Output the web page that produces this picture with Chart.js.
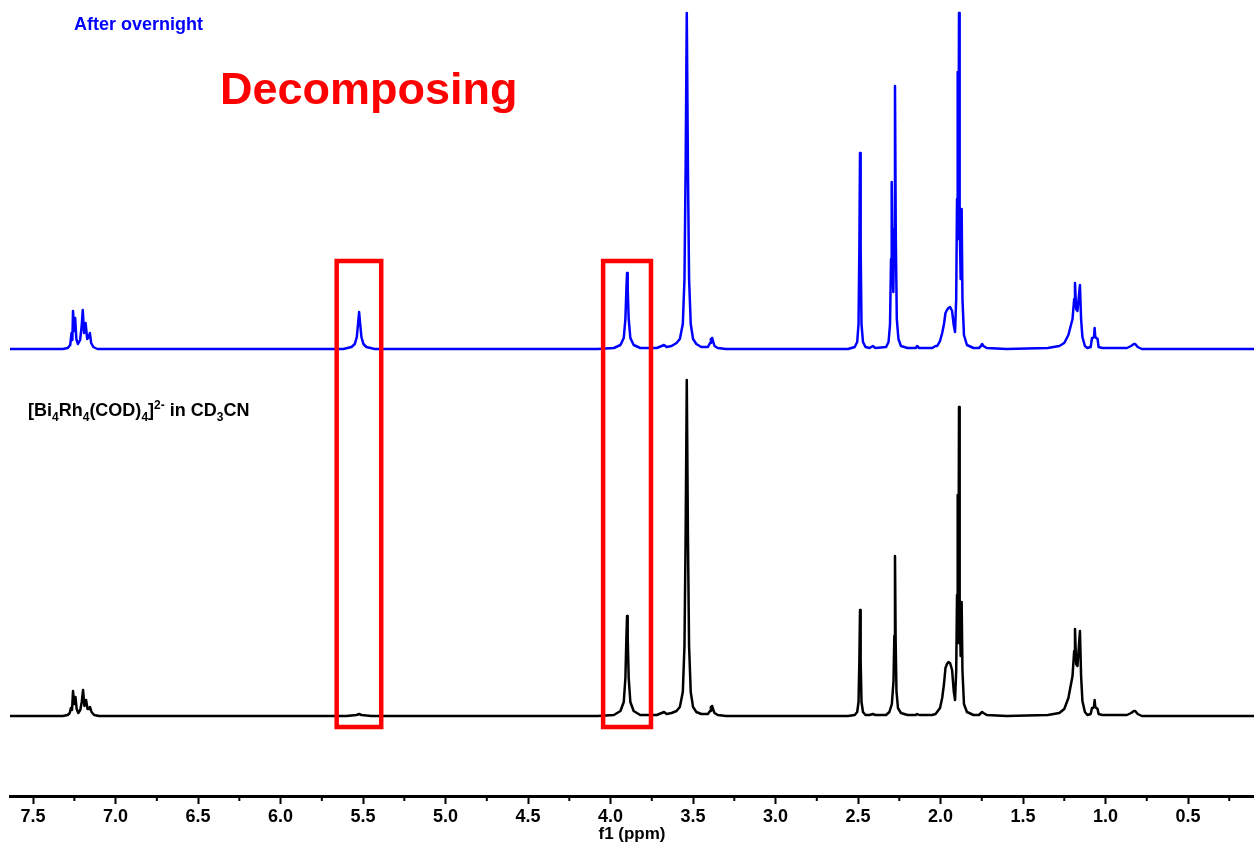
<!DOCTYPE html>
<html>
<head>
<meta charset="utf-8">
<title>1H NMR - Bi4Rh4(COD)4 decomposition</title>
<script src="https://cdn.jsdelivr.net/npm/chart.js@4.4.1/dist/chart.umd.min.js"></script>
<style>
  body { margin: 0; background: #fff; }
  #wrap { position: relative; width: 1254px; height: 845px; }
  .note {
    position: absolute;
    font-family: 'Liberation Sans', Arial, sans-serif;
    font-weight: bold;
    line-height: 1;
    white-space: nowrap;
  }
  #after { left: 74px; top: 15px; font-size: 18px; color: #0000ff; }
  #decomp { left: 220px; top: 66px; font-size: 45px; color: #ff0000; }
  #sample { left: 28px; top: 401px; font-size: 18px; color: #000; }
  #sample sub, #sample sup { font-size: 12px; line-height: 0; }
</style>
</head>
<body>
<div id="wrap">
  <canvas id="nmr"></canvas>
  <div class="note" id="after">After overnight</div>
  <div class="note" id="decomp">Decomposing</div>
  <div class="note" id="sample">[Bi<sub>4</sub>Rh<sub>4</sub>(COD)<sub>4</sub>]<sup>2-</sup> in CD<sub>3</sub>CN</div>
</div>
<script>
// x axis (ppm), shown from high to low shift
const shiftRange = [0.1, 7.64];
const majorTicks = [7.5, 7.0, 6.5, 6.0, 5.5, 5.0, 4.5, 4.0, 3.5, 3.0, 2.5, 2.0, 1.5, 1.0, 0.5];
const minorTicks = [7.25, 6.75, 6.25, 5.75, 5.25, 4.75, 4.25, 3.75, 3.25, 2.75, 2.25, 1.75, 1.25, 0.75, 0.25];

// spectrum after standing overnight: [ppm, intensity]
const afterOvernight = [
  [7.64,0],[7.32,0],[7.29,1],[7.275,4],[7.267,16],[7.262,9],[7.258,38],[7.251,18],[7.245,31],[7.238,10],
  [7.228,5],[7.215,9],[7.206,22],[7.199,39],[7.191,16],[7.182,26],[7.172,10],[7.163,12],[7.156,16],[7.148,6],
  [7.135,2],[7.11,0],
  [5.62,0],[5.57,2],[5.55,5],[5.538,12],[5.53,26],[5.524,37],[5.518,26],[5.51,12],[5.498,5],[5.48,2],[5.43,0],
  [4.08,0],[3.98,1],[3.94,4],[3.92,11],[3.91,30],[3.904,60],[3.9,76],[3.896,60],[3.89,30],[3.88,11],[3.86,4],
  [3.82,1],[3.72,1],[3.69,3],[3.676,4],[3.66,2],[3.63,3],[3.6,6],[3.58,10],[3.562,25],[3.552,70],[3.545,180],
  [3.538,336],[3.531,180],[3.524,70],[3.514,25],[3.5,10],[3.48,5],[3.45,2],[3.41,2],[3.397,6],[3.392,10],
  [3.388,7],[3.384,11],[3.379,8],[3.37,3],[3.35,1],[3.3,0],
  [2.56,0],[2.52,2],[2.505,7],[2.497,25],[2.492,100],[2.488,196],[2.484,100],[2.479,25],[2.47,7],[2.455,2],
  [2.43,1],[2.41,3],[2.395,1],[2.33,2],[2.315,7],[2.306,25],[2.3,90],[2.296,167],[2.29,80],[2.286,57],
  [2.281,120],[2.276,263],[2.271,110],[2.265,30],[2.255,10],[2.24,3],[2.2,1],[2.15,1],[2.142,3],[2.13,1],
  [2.05,1],[2.03,3],[2.02,3],[2.003,8],[1.99,16],[1.979,25],[1.97,36],[1.961,39],[1.952,41],[1.942,42],
  [1.93,38],[1.92,24],[1.912,17],[1.905,50],[1.9,150],[1.896,277],[1.892,110],[1.888,336],[1.884,130],
  [1.878,70],[1.872,140],[1.867,50],[1.858,14],[1.84,4],[1.8,1],[1.767,1],[1.755,3],[1.748,5],[1.74,3],
  [1.72,1],[1.6,0],
  [1.35,1],[1.28,3],[1.25,6],[1.225,14],[1.2,30],[1.19,50],[1.185,66],[1.178,40],[1.17,38],[1.163,50],
  [1.155,64],[1.148,30],[1.14,12],[1.125,3],[1.11,1],[1.09,2],[1.082,11],[1.077,11],[1.07,12],[1.066,21],
  [1.062,12],[1.055,11],[1.048,10],[1.042,2],[1.02,1],[0.87,1],[0.845,3],[0.828,5],[0.82,5],[0.805,2],
  [0.78,0],[0.1,0]
];

// fresh sample in CD3CN: [ppm, intensity]
const freshSample = [
  [7.64,0],[7.32,0],[7.29,1],[7.278,3],[7.271,8],[7.264,6],[7.258,25],[7.251,12],[7.243,19],[7.236,7],
  [7.226,3],[7.214,6],[7.205,14],[7.197,26],[7.189,10],[7.179,16],[7.17,7],[7.162,7],[7.155,9],[7.146,4],
  [7.13,1],[7.1,0],
  [5.6,0],[5.54,1],[5.524,2],[5.51,1],[5.45,0],
  [4.08,0],[3.98,1],[3.94,5],[3.92,14],[3.91,38],[3.904,78],[3.9,100],[3.896,78],[3.89,38],[3.88,14],[3.86,5],
  [3.82,1],[3.72,1],[3.69,3],[3.676,4],[3.66,2],[3.63,3],[3.6,5],[3.58,9],[3.562,24],[3.552,70],[3.545,180],
  [3.538,336],[3.531,180],[3.524,70],[3.514,24],[3.5,9],[3.48,4],[3.45,2],[3.41,2],[3.397,5],[3.392,9],
  [3.388,6],[3.384,10],[3.379,7],[3.37,3],[3.35,1],[3.3,0],
  [2.56,0],[2.52,1],[2.505,4],[2.497,14],[2.492,55],[2.488,106],[2.484,55],[2.479,14],[2.47,4],[2.455,1],
  [2.43,1],[2.41,2],[2.395,1],[2.33,1],[2.31,4],[2.295,12],[2.285,35],[2.28,80],[2.276,160],[2.272,75],
  [2.267,25],[2.258,8],[2.24,3],[2.2,1],[2.15,1],[2.142,2],[2.13,1],
  [2.05,1],[2.03,2],[2.003,8],[1.99,18],[1.979,32],[1.97,48],[1.961,52],[1.952,54],[1.942,53],[1.93,46],
  [1.92,25],[1.912,16],[1.905,45],[1.9,121],[1.896,221],[1.892,73],[1.888,309],[1.884,110],[1.878,60],
  [1.872,114],[1.867,45],[1.858,12],[1.84,4],[1.8,1],[1.767,1],[1.755,3],[1.748,4],[1.74,3],[1.72,1],[1.6,0],
  [1.35,1],[1.28,3],[1.25,7],[1.225,18],[1.2,40],[1.19,65],[1.185,87],[1.178,52],[1.17,50],[1.163,66],
  [1.155,85],[1.148,40],[1.14,15],[1.125,4],[1.11,1],[1.09,2],[1.082,8],[1.077,8],[1.07,9],[1.066,16],
  [1.062,9],[1.055,8],[1.048,7],[1.042,2],[1.02,1],[0.87,1],[0.845,3],[0.828,5],[0.82,5],[0.805,2],
  [0.78,0],[0.1,0]
];

// regions boxed in red (ppm from, ppm to)
const highlightWindows = [[5.66, 5.39], [4.045, 3.755]];

function toPoints(pairs) {
  return pairs.map(([x, y]) => ({ x: x, y: y }));
}

// red boxes + short minor ticks on the ppm axis
const spectrumExtras = {
  id: 'spectrumExtras',
  afterDatasetsDraw(chart) {
    const ctx = chart.ctx;
    const x = chart.scales.x;
    const yBlack = chart.scales.yBlack;
    ctx.save();
    ctx.strokeStyle = '#ff0000';
    ctx.lineWidth = 4.5;
    highlightWindows.forEach(([from, to]) => {
      const left = x.getPixelForValue(from);
      const right = x.getPixelForValue(to);
      const top = yBlack.getPixelForValue(455);
      const bottom = yBlack.getPixelForValue(-11);
      ctx.strokeRect(left, top, right - left, bottom - top);
    });
    ctx.restore();
  },
  afterDraw(chart) {
    const ctx = chart.ctx;
    const x = chart.scales.x;
    const y0 = chart.chartArea.bottom;
    ctx.save();
    ctx.strokeStyle = '#000';
    ctx.lineWidth = 2;
    minorTicks.forEach(v => {
      const px = x.getPixelForValue(v);
      ctx.beginPath();
      ctx.moveTo(px, y0);
      ctx.lineTo(px, y0 + 5);
      ctx.stroke();
    });
    ctx.restore();
  }
};

const canvas = document.getElementById('nmr');
canvas.width = 1254;
canvas.height = 845;

new Chart(canvas.getContext('2d'), {
  type: 'scatter',
  data: {
    datasets: [
      {
        label: 'After overnight',
        data: toPoints(afterOvernight),
        yAxisID: 'yBlue',
        showLine: true,
        borderColor: '#0000ff',
        borderWidth: 2.5,
        borderJoinStyle: 'round',
        pointRadius: 0,
        tension: 0
      },
      {
        label: 'Fresh sample',
        data: toPoints(freshSample),
        yAxisID: 'yBlack',
        showLine: true,
        borderColor: '#000000',
        borderWidth: 2.5,
        borderJoinStyle: 'round',
        pointRadius: 0,
        tension: 0
      }
    ]
  },
  options: {
    responsive: false,
    animation: false,
    events: [],
    layout: { padding: { left: 10, right: 0, top: 0, bottom: 0 } },
    plugins: {
      legend: { display: false },
      tooltip: { enabled: false }
    },
    scales: {
      x: {
        type: 'linear',
        reverse: true,
        min: shiftRange[0],
        max: shiftRange[1],
        afterBuildTicks: scale => {
          scale.ticks = majorTicks.map(v => ({ value: v }));
        },
        ticks: {
          autoSkip: false,
          maxRotation: 0,
          padding: 2,
          color: '#000',
          font: { family: "'Liberation Sans Narrow', 'Arial Narrow', 'Liberation Sans', Arial, sans-serif", size: 18, weight: 'bold' },
          callback: value => Number(value).toFixed(1)
        },
        grid: {
          display: true,
          drawOnChartArea: false,
          drawTicks: true,
          tickLength: 8,
          tickWidth: 2,
          tickColor: '#000'
        },
        border: { display: true, color: '#000', width: 3 },
        title: {
          display: true,
          text: 'f1 (ppm)',
          color: '#000',
          padding: { top: -5, bottom: 0 },
          font: { family: "'Liberation Sans Narrow', 'Arial Narrow', 'Liberation Sans', Arial, sans-serif", size: 17, weight: 'bold' }
        }
      },
      yBlue: { display: false, min: -447, max: 349 },
      yBlack: { display: false, min: -80, max: 716 }
    }
  },
  plugins: [spectrumExtras]
});
</script>
</body>
</html>
